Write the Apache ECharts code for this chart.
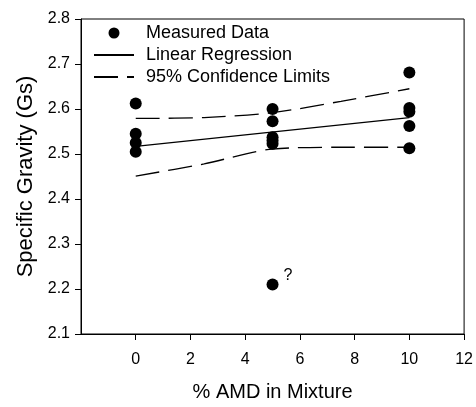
<!DOCTYPE html>
<html><head><meta charset="utf-8">
<script src="https://cdn.jsdelivr.net/npm/echarts@6/dist/echarts.min.js"></script>
<style>html,body{margin:0;padding:0;background:#fff}#c{width:476px;height:407px}</style>
</head><body><div id="c"></div>
<script>
var measuredX = [0, 0, 0, 0, 5, 5, 5, 5, 5, 5, 10, 10, 10, 10, 10];
var measuredY = [2.612, 2.545, 2.525, 2.505, 2.600, 2.573, 2.537, 2.530, 2.523, 2.210, 2.681, 2.602, 2.594, 2.562, 2.513];
var fitX = [0, 10];
var fitY = [2.517, 2.581];
var confX = [0, 2.5, 5, 7.5, 10];
var upperY = [2.579, 2.581, 2.592, 2.617, 2.645];
var lowerY = [2.451, 2.478, 2.511, 2.515, 2.515];
var xTicks = [0, 2, 4, 6, 8, 10, 12];
var outlierLabel = '?';

function pairs(xs, ys){ return xs.map(function(x,i){ return [x, ys[i]]; }); }
var font = 'Liberation Sans, Arial, sans-serif';
var chart = echarts.init(document.getElementById('c'));
chart.setOption({
  animation: false,
  backgroundColor: '#fff',
  grid: {left: 81, right: 11, top: 19, bottom: 71, show: true, borderColor: '#000', borderWidth: 1, backgroundColor: 'transparent'},
  legend: {
    left: 93, top: 24, padding: 0, orient: 'vertical', itemWidth: 40, itemHeight: 11, itemGap: 4,
    textStyle: {fontFamily: font, fontSize: 18, color: '#000', padding: [0,0,0,7]},
    data: [
      {name: 'Measured Data', icon: 'circle', itemStyle: {opacity: 1}},
      {name: 'Linear Regression', itemStyle: {opacity: 0}},
      {name: '95% Confidence Limits', itemStyle: {opacity: 0}}
    ]
  },
  xAxis: {
    type: 'value', min: -2, max: 12, interval: 2,
    name: '% AMD in Mixture', nameLocation: 'middle', nameGap: 48,
    nameTextStyle: {fontFamily: font, fontSize: 20, color: '#000'},
    axisLine: {onZero: false, lineStyle: {color: '#000', width: 1}},
    axisTick: {show: true, length: 6, lineStyle: {color: '#000'}, customValues: xTicks},
    axisLabel: {fontFamily: font, fontSize: 16, color: '#000', margin: 18, customValues: xTicks,
      formatter: function(v){ return v < 0 ? '' : String(v); }},
    splitLine: {show: false}
  },
  yAxis: {
    type: 'value', min: 2.1, max: 2.8, interval: 0.1,
    name: 'Specific Gravity (Gs)', nameLocation: 'middle', nameGap: 44,
    nameTextStyle: {fontFamily: font, fontSize: 22, color: '#000'},
    axisLine: {show: true, onZero: false, lineStyle: {color: '#000', width: 1}},
    axisTick: {show: true, length: 6, lineStyle: {color: '#000'}},
    axisLabel: {fontFamily: font, fontSize: 16, color: '#000', margin: 11,
      formatter: function(v){ return v.toFixed(1); }},
    splitLine: {show: false}
  },
  series: [
    {
      name: 'Measured Data', type: 'scatter', symbol: 'circle', symbolSize: 12,
      itemStyle: {color: '#000', opacity: 1},
      data: pairs(measuredX, measuredY).map(function(p){
        if (p[1] < 2.3) {
          return {value: p, label: {show: true, position: 'right', formatter: outlierLabel, offset: [0, -9],
            fontFamily: font, fontSize: 16, color: '#000'}};
        }
        return p;
      }),
      z: 5
    },
    {
      name: 'Linear Regression', type: 'line', symbol: 'none', showSymbol: false,
      lineStyle: {color: '#000', width: 1.3}, itemStyle: {color: '#000'},
      data: pairs(fitX, fitY)
    },
    {
      name: '95% Confidence Limits', type: 'line', symbol: 'none', showSymbol: false, smooth: 0.3,
      lineStyle: {color: '#000', width: 1.3, type: [24, 9]}, itemStyle: {color: '#000'},
      data: pairs(confX, upperY)
    },
    {
      name: '95% Confidence Limits', type: 'line', symbol: 'none', showSymbol: false, smooth: 0.3,
      lineStyle: {color: '#000', width: 1.3, type: [24, 9]}, itemStyle: {color: '#000'},
      data: pairs(confX, lowerY)
    }
  ]
});
</script>
</body></html>
